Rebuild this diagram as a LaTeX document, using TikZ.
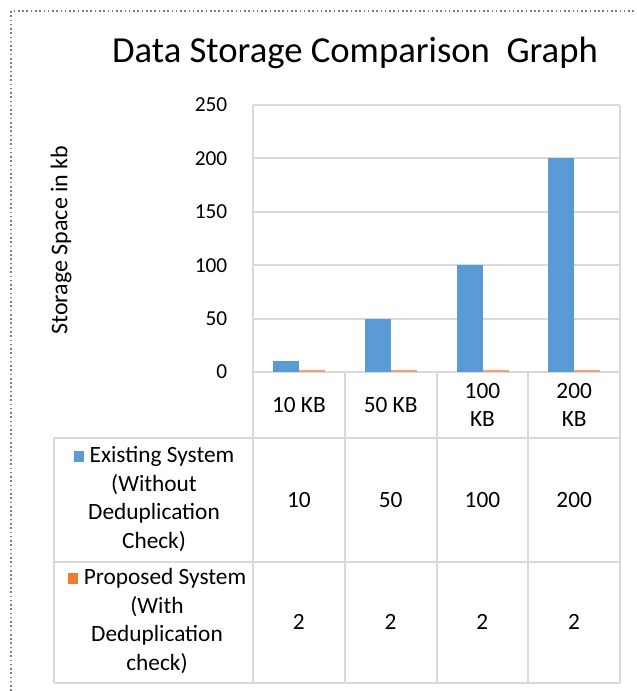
\documentclass[tikz,border=0pt]{standalone}
\usepackage{fontspec}
\setmainfont{Carlito}

\definecolor{exblue}{HTML}{5B9BD5}
\definecolor{proorange}{HTML}{ED7D31}
\definecolor{gridgray}{HTML}{D9D9D9}

\newcommand{\legsq}[1]{\textcolor{#1}{\rule[0.8pt]{8pt}{8pt}}\hspace{4pt}}

\begin{document}
\begin{tikzpicture}[
		x=0.75pt,
		y=-0.75pt,
		gridline/.style={
			gridgray,
			line width=1.4pt,
		},
		tablerule/.style={
			gridgray,
			line width=1.6pt,
		},
		ticklabel/.style={
			anchor=east,
			font=\fontsize{16}{19}\selectfont,
		},
		cell/.style={
			align=center,
			font=\fontsize{17.5}{21.4}\selectfont,
		},
		exbar/.style={
			fill=exblue,
		},
		probar/.style={
			fill=proorange!70,
		},
	]

	\useasboundingbox (0,0) rectangle (636,691);
	\fill [white] (0,0) rectangle (636,691);
	\draw [gray, dotted, line width=1.2pt] (11,691) -- (11,11) -- (636,11);

	\node [font=\fontsize{27.5}{30}\selectfont] (title) at (355,53) {Data Storage Comparison\ \ Graph};
	\node [rotate=90, font=\fontsize{18}{21}\selectfont] (ylabel) at (61,240) {Storage Space in kb};

	% gridlines and ticks
	\foreach \v in {0,50,...,250} {
		\draw [gridline] (253,{372-1.068*\v}) -- (620,{372-1.068*\v});
		\node [ticklabel] (tick\v) at (232,{372-1.068*\v}) {\v};
	}

	% bars
	\foreach \i/\ex in {0/10, 1/50, 2/100, 3/200} {
		\fill [exbar] ({253+91.75*\i+20},372) rectangle ({253+91.75*\i+46},{372-1.068*\ex});
		\fill [probar] ({253+91.75*\i+46},372) rectangle ({253+91.75*\i+72},{372-1.068*1.5});
	}

	% data table
	\draw [tablerule] (253,105) -- (620,105);
	\draw [tablerule] (253,105) -- (253,683);
	\draw [tablerule] (620,105) -- (620,683);
	\foreach \x in {345,437,528} {
		\draw [tablerule] (\x,372) -- (\x,683);
	}
	\draw [tablerule] (54,438) -- (620,438);
	\draw [tablerule] (54,562) -- (620,562);
	\draw [tablerule] (54,683) -- (620,683);
	\draw [tablerule] (54,438) -- (54,683);

	\foreach \i/\cat/\ex/\pro in {0/10 KB/10/2, 1/50 KB/50/2, 2/100\\KB/100/2, 3/200\\KB/200/2} {
		\node [cell] (cat\i) at ({253+91.75*\i+45.9},405) {\cat};
		\node [cell] (ex\i) at ({253+91.75*\i+45.9},500) {\ex};
		\node [cell] (pro\i) at ({253+91.75*\i+45.9},622) {\pro};
	}

	\node [cell] (exlegend) at (154,499) {\legsq{exblue}Existing System\\(Without\\Deduplication\\Check)};
	\node [cell] (prolegend) at (157,621) {\legsq{proorange}Proposed System\\(With\\Deduplication\\check)};

\end{tikzpicture}
\end{document}
